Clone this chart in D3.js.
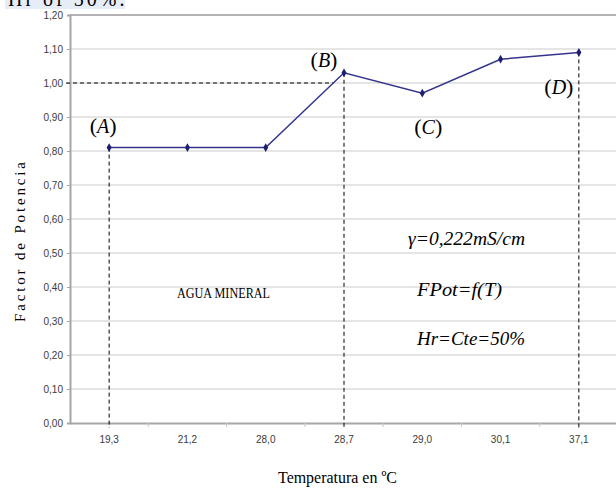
<!DOCTYPE html>
<html>
<head>
<meta charset="utf-8">
<script src="https://cdn.jsdelivr.net/npm/d3@7"></script>
<style>
  body { margin: 0; background: #fff; }
  svg { display: block; }
</style>
</head>
<body>
<svg id="chart"></svg>
<script>
// Chart size
const width = 616;
const height = 491;

// Data
const temps = ["19,3", "21,2", "28,0", "28,7", "29,0", "30,1", "37,1"];
const factor = [0.81, 0.81, 0.81, 1.03, 0.97, 1.07, 1.09];
const yTicks = [0, 0.1, 0.2, 0.3, 0.4, 0.5, 0.6, 0.7, 0.8, 0.9, 1.0, 1.1, 1.2];
const marked = [0, 3, 6];          // points with a dashed drop line
const pointLabels = ["(A)", "(B)", "(C)", "(D)"];
const labelIdx = [0, 3, 4, 6];
const refLevel = 1.0;
const notes = ["γ=0,222mS/cm", "FPot=f(T)", "Hr=Cte=50%"];

const serif = "'Liberation Serif', 'Times New Roman', serif";
const sans = "'Liberation Sans Narrow', 'Arial Narrow', 'Liberation Sans', sans-serif";

const svg = d3.select("#chart")
              .attr("width", width)
              .attr("height", height);

const x = d3.scaleBand().domain(temps).range([70, 618]);
const y = d3.scaleLinear().domain([0, 1.2]).range([423, 15]);
const cx = d => x(d) + x.bandwidth() / 2;
const fmt = d => d3.format(".2f")(d).replace(".", ",");

// cropped caption line from the page above the chart
svg.append("rect").attr("x", 5).attr("y", 0).attr("width", 120).attr("height", 9)
   .attr("fill", "#e7edf6");
svg.append("text").attr("x", 8).attr("y", 6)
   .attr("font-family", serif)
   .attr("font-size", 20).attr("letter-spacing", 3)
   .text("Hr of 50%.");

// gridlines
svg.append("g").selectAll("line")
   .data(yTicks.filter(d => d > 0 && d < 1.2))
   .enter().append("line")
   .attr("x1", 70).attr("x2", width)
   .attr("y1", d => y(d)).attr("y2", d => y(d))
   .attr("stroke", "#dcdcdc").attr("stroke-width", 1.5);

// frame top
svg.append("line").attr("x1", 70).attr("x2", width)
   .attr("y1", y(1.2)).attr("y2", y(1.2))
   .attr("stroke", "#b3b3b3").attr("stroke-width", 2);

// y axis
const yAxis = svg.append("g").attr("transform", "translate(70,0)")
   .call(d3.axisLeft(y).tickValues(yTicks).tickFormat(fmt).tickSize(3));
yAxis.select(".domain").attr("stroke", "#a6a6a6").attr("stroke-width", 2);
yAxis.selectAll(".tick line").attr("stroke", "#a6a6a6");
yAxis.selectAll("text").attr("fill", "#3a3a3a").attr("font-size", 10)
     .attr("font-family", sans)
     .attr("x", -7);

// x axis
const xAxis = svg.append("g").attr("transform", `translate(0,${y(0)})`)
   .call(d3.axisBottom(x).tickSize(0));
xAxis.select(".domain").attr("stroke", "#a6a6a6").attr("stroke-width", 2);
xAxis.selectAll("text").attr("fill", "#3a3a3a").attr("font-size", 10)
     .attr("font-family", sans)
     .attr("y", 13);
// small ticks at the category boundaries
svg.append("g").selectAll("line")
   .data(temps.slice(1))
   .enter().append("line")
   .attr("x1", d => x(d)).attr("x2", d => x(d))
   .attr("y1", y(0)).attr("y2", y(0) + 4)
   .attr("stroke", "#c8c8c8");

// dashed reference lines
const i0 = factor.findIndex((v, i) => i > 0 && v >= refLevel && factor[i - 1] < refLevel);
const t = (refLevel - factor[i0 - 1]) / (factor[i0] - factor[i0 - 1]);
const xCross = cx(temps[i0 - 1]) + t * (cx(temps[i0]) - cx(temps[i0 - 1]));
svg.append("line")
   .attr("x1", 66).attr("x2", xCross)
   .attr("y1", y(refLevel)).attr("y2", y(refLevel))
   .attr("stroke", "#000").attr("stroke-width", 1).attr("stroke-dasharray", "4,3");

svg.append("g").selectAll("line")
   .data(marked)
   .enter().append("line")
   .attr("x1", i => cx(temps[i])).attr("x2", i => cx(temps[i]))
   .attr("y1", i => y(factor[i])).attr("y2", y(0) + 5)
   .attr("stroke", "#000").attr("stroke-width", 1).attr("stroke-dasharray", "4,3");

// data line
const line = d3.line()
   .x((d, i) => cx(temps[i]))
   .y(d => y(d));
svg.append("path")
   .datum(factor)
   .attr("d", line)
   .attr("fill", "none")
   .attr("stroke", "#34348c")
   .attr("stroke-width", 1.5);

svg.append("g").selectAll("path")
   .data(factor)
   .enter().append("path")
   .attr("d", d3.symbol(d3.symbolDiamond, 22))
   .attr("transform", (d, i) => `translate(${cx(temps[i])},${y(d)})`)
   .attr("fill", "#1f1f70");

// point letters
const labelPos = [[-6, -15], [-20, -6], [6, 41], [-20, 42]];
const lbl = svg.append("g")
   .attr("font-family", serif)
   .attr("text-anchor", "middle");
labelIdx.forEach((idx, k) => {
  const tx = lbl.append("text")
     .attr("x", cx(temps[idx]) + labelPos[k][0])
     .attr("y", y(factor[idx]) + labelPos[k][1])
     .attr("font-size", 20);
  tx.append("tspan").attr("font-size", 22).text("(");
  tx.append("tspan").attr("font-style", "italic").text(pointLabels[k].slice(1, -1));
  tx.append("tspan").attr("font-size", 22).text(")");
});

// notes
svg.append("text")
   .attr("x", 177).attr("y", 298)
   .attr("font-family", serif)
   .attr("font-size", 14)
   .attr("textLength", 93).attr("lengthAdjust", "spacingAndGlyphs")
   .text("AGUA MINERAL");

const noteX = [408, 417, 417];
const noteY = [245, 296, 345];
const noteW = [117, 85, 108];
svg.append("g").selectAll("text")
   .data(notes)
   .enter().append("text")
   .attr("x", (d, i) => noteX[i]).attr("y", (d, i) => noteY[i])
   .attr("font-family", serif)
   .attr("font-style", "italic").attr("font-size", 18)
   .attr("textLength", (d, i) => noteW[i]).attr("lengthAdjust", "spacingAndGlyphs")
   .text(d => d);

// axis titles
svg.append("text")
   .attr("x", 278).attr("y", 483)
   .attr("font-family", serif)
   .attr("font-size", 17)
   .attr("textLength", 119).attr("lengthAdjust", "spacingAndGlyphs")
   .text("Temperatura en ºC");

svg.append("text")
   .attr("transform", "translate(25,322) rotate(-90)")
   .attr("font-family", serif)
   .attr("font-size", 15)
   .attr("textLength", 160).attr("lengthAdjust", "spacing")
   .text("Factor de Potencia");
</script>
</body>
</html>
